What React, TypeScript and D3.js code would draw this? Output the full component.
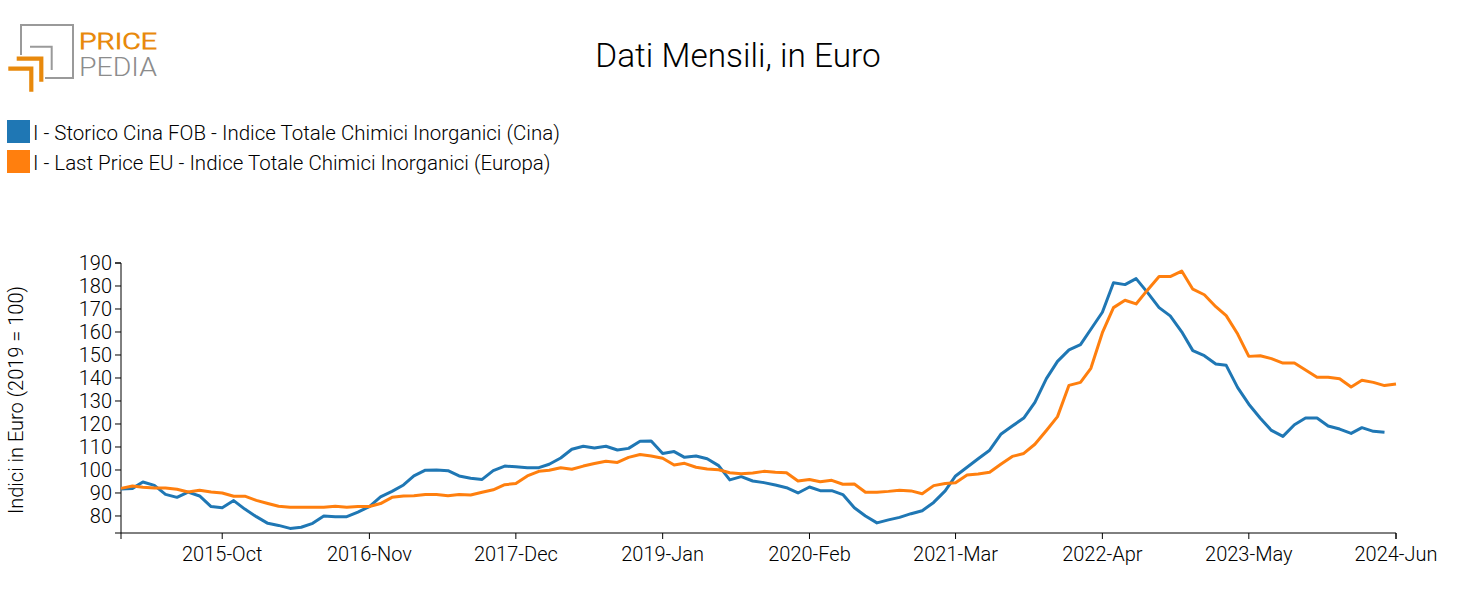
import React from "react";
import * as d3 from "d3";

const START_YEAR = 2015;
const START_MONTH = 0; // January

const cinaValues = [
  91.7, 92.0, 94.8, 93.3, 89.4, 88.1, 90.4, 88.7, 84.1, 83.6, 86.7, 83.0,
  79.7, 76.8, 75.9, 74.6, 75.1, 76.8, 80.0, 79.7, 79.7, 81.7, 84.1, 88.3,
  90.7, 93.5, 97.4, 99.9, 100.0, 99.7, 97.4, 96.4, 95.9, 99.7, 101.7, 101.4,
  101.0, 101.0, 102.5, 105.2, 109.0, 110.3, 109.6, 110.3, 108.7, 109.4, 112.5, 112.6,
  107.2, 108.0, 105.5, 106.1, 104.9, 101.9, 95.7, 97.1, 95.2, 94.5, 93.5, 92.3,
  90.0, 92.6, 91.0, 91.0, 89.3, 83.6, 80.0, 77.0, 78.3, 79.4, 81.0, 82.3,
  85.9, 90.9, 97.4, 101.2, 104.9, 108.6, 115.5, 119.1, 122.6, 129.4, 139.7, 147.2,
  152.2, 154.5, 161.2, 168.6, 181.4, 180.6, 183.2, 177.1, 170.6, 167.0, 160.1, 151.9,
  149.7, 146.1, 145.5, 135.8, 128.6, 122.5, 117.2, 114.6, 119.7, 122.6, 122.6, 119.1,
  117.8, 115.9, 118.4, 116.8, 116.4,
];

const europaValues = [
  92.0, 93.0, 92.5, 92.2, 92.2, 91.6, 90.4, 91.2, 90.4, 90.0, 88.6, 88.6,
  86.8, 85.4, 84.2, 83.8, 83.8, 83.8, 83.8, 84.2, 83.8, 84.1, 84.1, 85.4,
  88.1, 88.7, 88.8, 89.3, 89.3, 88.8, 89.3, 89.1, 90.3, 91.4, 93.6, 94.1,
  97.4, 99.4, 99.9, 101.0, 100.3, 101.7, 102.8, 103.8, 103.3, 105.5, 106.7, 106.1,
  105.1, 102.2, 102.9, 101.2, 100.4, 100.1, 98.8, 98.4, 98.7, 99.4, 99.0, 98.8,
  95.2, 95.9, 94.9, 95.5, 93.8, 93.9, 90.3, 90.3, 90.7, 91.2, 90.9, 89.7,
  93.2, 94.1, 94.5, 97.8, 98.3, 99.0, 102.5, 105.9, 107.2, 111.2, 117.2, 123.2,
  136.8, 138.1, 144.2, 159.7, 170.6, 173.8, 172.2, 178.3, 184.1, 184.1, 186.5, 178.6,
  176.2, 171.0, 167.1, 159.1, 149.4, 149.7, 148.4, 146.5, 146.5, 143.5, 140.3, 140.3,
  139.7, 136.1, 139.0, 138.1, 136.7, 137.4,
];

const xTickLabels = [
  "2015-10", "2016-11", "2017-12", "2019-01", "2020-02",
  "2021-03", "2022-04", "2023-05", "2024-06",
];
const yTicks = [80, 90, 100, 110, 120, 130, 140, 150, 160, 170, 180, 190];

const seriesNames = [
  "I - Storico Cina FOB - Indice Totale Chimici Inorganici (Cina)",
  "I - Last Price EU - Indice Totale Chimici Inorganici (Europa)",
];
const seriesColors = ["#1f77b4", "#ff7f0e"];
const title = "Dati Mensili, in Euro";
const yLabel = "Indici in Euro (2019 = 100)";

if (typeof document !== "undefined") {
  document.body.style.margin = "0";
}

const FONT = "'Roboto Light', Roboto, 'Noto Sans', sans-serif";

export default function App() {
  const W = 1477;
  const H = 615;
  const left = 121;
  const right = 1396;
  const top = 263;
  const bottom = 533;

  const toDate = (i: number) => new Date(START_YEAR, START_MONTH + i, 1);
  const parse = d3.timeParse("%Y-%m");
  const fmt = d3.timeFormat("%Y-%b");

  const x = d3
    .scaleTime()
    .domain([toDate(0), parse("2024-06") as Date])
    .range([left, right]);
  const y = d3.scaleLinear().domain([72.6, 190]).range([bottom, top]);

  const line = d3
    .line<number>()
    .x((_, i) => x(toDate(i)))
    .y((v) => y(v));

  const series = [cinaValues, europaValues];
  const xTicks = xTickLabels.map((s) => parse(s) as Date);

  return (
    <svg width={W} height={H} style={{ display: "block", fontFamily: FONT }}>
      {/* Logo */}
      <g>
        <path d="M21,55 V25 H73 V78 H45" fill="none" stroke="#9a9a9a" strokeWidth={2} />
        <path d="M30,46.7 H51.7 V70" fill="none" stroke="#9a9a9a" strokeWidth={2} />
        <path d="M16.7,58.7 H41.3 V81.7" fill="none" stroke="#e8890c" strokeWidth={4.2} />
        <path d="M8.3,68.7 H31.3 V91.7" fill="none" stroke="#e8890c" strokeWidth={4.2} />
        <text x={79} y={48.5} fontSize={22} fontWeight={700} fill="#e8890c" textLength={78} lengthAdjust="spacingAndGlyphs">PRICE</text>
        <text x={79} y={76} fontSize={25} fontWeight={300} fill="#8c8c8c" textLength={78} lengthAdjust="spacingAndGlyphs">PEDIA</text>
      </g>

      <text x={738} y={67} textAnchor="middle" fontSize={33.4} fontWeight={300} fill="#000">
        {title}
      </text>

      {/* Legend */}
      {seriesNames.map((name, k) => (
        <g key={name} transform={`translate(7, ${120 + k * 30})`}>
          <rect x={0} y={0} width={23} height={23} fill={seriesColors[k]} />
          <text x={26} y={19.5} fontSize={20.5} fontWeight={300} fill="#000">
            {name}
          </text>
        </g>
      ))}

      {/* Y axis */}
      <g>
        <path d={`M${left - 6},${bottom}H${left}V${top}H${left - 6}`} fill="none" stroke="#000" />
        {yTicks.map((t) => (
          <g key={t} transform={`translate(0, ${y(t)})`}>
            <line x1={left - 6} x2={left} stroke="#000" />
            <text x={left - 9} dy="0.35em" textAnchor="end" fontSize={20} fontWeight={300} fill="#000">
              {t}
            </text>
          </g>
        ))}
        <text
          transform={`translate(23, ${(top + bottom) / 2 + 2}) rotate(-90)`}
          textAnchor="middle"
          fontSize={20}
          fontWeight={300}
          fill="#000"
        >
          {yLabel}
        </text>
      </g>

      {/* X axis */}
      <g>
        <path d={`M${left},${bottom + 6}V${bottom}H${right}V${bottom + 6}`} fill="none" stroke="#000" />
        {xTicks.map((d) => (
          <g key={+d} transform={`translate(${x(d)}, ${bottom})`}>
            <line y1={0} y2={6} stroke="#000" />
            <text y={28} textAnchor="middle" fontSize={20} fontWeight={300} fill="#000">
              {fmt(d)}
            </text>
          </g>
        ))}
      </g>

      {/* Lines */}
      {series.map((vals, k) => (
        <path
          key={k}
          d={line(vals) || ""}
          fill="none"
          stroke={seriesColors[k]}
          strokeWidth={3}
          strokeLinejoin="round"
        />
      ))}
    </svg>
  );
}
